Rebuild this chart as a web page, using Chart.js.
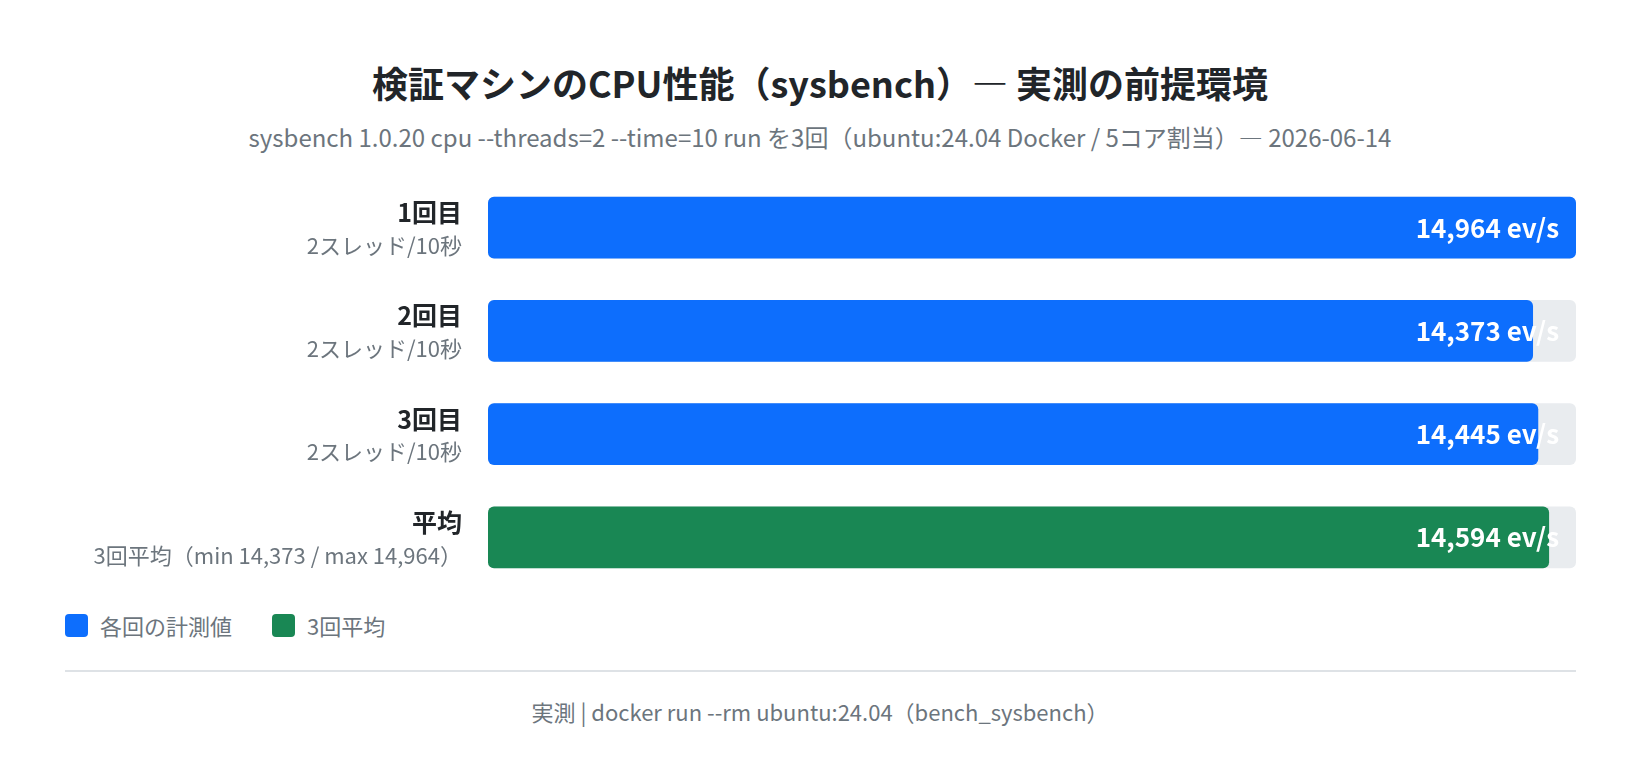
<!DOCTYPE html>
<html lang="ja">
<head>
<meta charset="utf-8">
<script src="https://cdn.jsdelivr.net/npm/chart.js@4.4.1/dist/chart.umd.min.js"></script>
<style>
  body { margin:0; width:1640px; height:766px; background:#fff; position:relative; overflow:hidden;
         font-family:"Noto Sans CJK JP", "Noto Sans", sans-serif; }
  .title { position:absolute; top:62px; left:0; width:1640px; text-align:center; line-height:40px;
           font-size:36px; font-weight:700; color:#212529; }
  .sub { position:absolute; top:122px; left:0; width:1640px; text-align:center; line-height:30px;
         font-size:24px; color:#6c757d; }
  .box { position:absolute; top:176px; left:0; width:1640px; height:413px; }
  .legend { position:absolute; top:610px; left:65px; height:30px; display:flex; align-items:center;
            font-size:22px; color:#6c757d; }
  .legend span.sw { display:inline-block; width:23px; height:23px; border-radius:4px; margin-right:12px; }
  .legend .item { display:flex; align-items:center; margin-right:40px; }
  .rule { position:absolute; top:670px; left:65px; width:1511px; height:2px; background:#dee2e6; }
  .foot { position:absolute; top:696px; left:0; width:1640px; text-align:center; line-height:30px;
          font-size:22px; color:#6c757d; }
</style>
</head>
<body>
<div class="title">検証マシンのCPU性能（sysbench）— 実測の前提環境</div>
<div class="sub">sysbench 1.0.20 cpu --threads=2 --time=10 run を3回（ubuntu:24.04 Docker / 5コア割当）— 2026-06-14</div>
<div class="box"><canvas id="myChart"></canvas></div>
<div class="legend">
  <div class="item"><span class="sw" style="background:#0d6efd"></span>各回の計測値</div>
  <div class="item"><span class="sw" style="background:#198754"></span>3回平均</div>
</div>
<div class="rule"></div>
<div class="foot">実測 | docker run --rm ubuntu:24.04（bench_sysbench）</div>

<script>
  // data
  const runLabels = ["1回目", "2回目", "3回目", "平均"];
  const runNotes = ["2スレッド/10秒", "2スレッド/10秒", "2スレッド/10秒", "3回平均（min 14,373 / max 14,964）"];
  const runValues = [14964, 14373, 14445, 14594];
  const trackValues = [14964, 14964, 14964, 14964];
  const barColors = ["#0d6efd", "#0d6efd", "#0d6efd", "#198754"];

  // row labels on the left + value text inside bars
  const labelPlugin = {
    id: 'rowLabels',
    afterDatasetsDraw(chart) {
      const ctx = chart.ctx;
      const yScale = chart.scales.y;
      const area = chart.chartArea;
      ctx.save();
      ctx.textBaseline = 'middle';
      runLabels.forEach((lab, i) => {
        const y = yScale.getPixelForValue(i);
        ctx.textAlign = 'right';
        ctx.fillStyle = '#212529';
        ctx.font = '700 25px "Noto Sans CJK JP"';
        ctx.fillText(lab, area.left - 26, y - 15);
        ctx.fillStyle = '#6c757d';
        ctx.font = '22px "Noto Sans CJK JP"';
        ctx.fillText(runNotes[i], area.left - 26, y + 18);
        ctx.fillStyle = '#ffffff';
        ctx.font = '700 26px "Noto Sans CJK JP"';
        ctx.fillText(runValues[i].toLocaleString('en-US') + ' ev/s', area.right - 17, y);
      });
      ctx.restore();
    }
  };

  const ctx = document.getElementById('myChart').getContext('2d');
  const chart = new Chart(ctx, {
    type: 'bar',
    data: {
      labels: runLabels,
      datasets: [
        { label: '計測値', data: runValues, backgroundColor: barColors, borderRadius: 6,
          borderSkipped: false, grouped: false, categoryPercentage: 0.6, barPercentage: 1, order: 0 },
        { label: 'track', data: trackValues, backgroundColor: '#e9ecef', borderRadius: 6,
          borderSkipped: false, grouped: false, categoryPercentage: 0.6, barPercentage: 1, order: 1 }
      ]
    },
    options: {
      indexAxis: 'y',
      responsive: true,
      maintainAspectRatio: false,
      animation: false,
      layout: { padding: { left: 488, right: 64, top: 0, bottom: 0 } },
      scales: {
        x: { display: false, min: 0, max: 14964 },
        y: { display: false }
      },
      plugins: {
        legend: { display: false },
        tooltip: { enabled: false }
      }
    },
    plugins: [labelPlugin]
  });
</script>
</body>
</html>
